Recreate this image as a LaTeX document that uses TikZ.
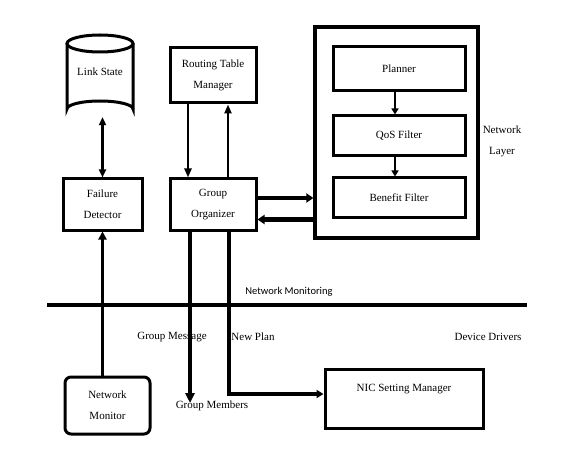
\documentclass[tikz,border=0pt]{standalone}
\usepackage{fontspec}
\setmainfont{Liberation Serif}
\newfontfamily\calib{Carlito}
\usetikzlibrary{arrows.meta,calc}
\begin{document}
\begin{tikzpicture}[x=1pt,y=-1pt,
  font=\fontsize{11}{21}\selectfont,
  box/.style={draw, line width=3pt, align=center, inner sep=0pt},
  thin arrow/.style={line width=2.2pt, -{Triangle[length=9pt,width=7pt]}},
  thick arrow/.style={line width=4.5pt, -{Triangle[length=7pt,width=9pt]}},
  conn/.style={line width=3.2pt},
  lbl/.style={inner sep=0pt}]
\useasboundingbox (0,0) rectangle (569,462);
% Link State cylinder
\node[lbl, minimum width=66pt, minimum height=90pt] (ls) at (100,72) {Link State};
\draw[line width=3pt] (67,43.5) -- (67,109) arc[start angle=180,end angle=360,x radius=33,y radius=8] -- (133,43.5);
\draw[line width=3pt] (100,43.5) ellipse[x radius=33, y radius=8.5];
% boxes
\node[box, minimum width=86pt, minimum height=55pt] (rtm) at (213,75.5) {Routing Table\\Manager};
\node[box, minimum width=79pt, minimum height=51pt] (fd) at (102.5,204.5) {Failure\\Detector};
\node[box, minimum width=86pt, minimum height=51pt] (go) at (213,204.5) {Group\\Organizer};
\node[draw, line width=3.2pt, minimum width=163pt, minimum height=211pt, inner sep=0pt] (nl) at (396.5,132.5) {};
\node[box, minimum width=132pt, minimum height=44pt] (pl) at (399,69) {Planner};
\node[box, minimum width=132pt, minimum height=40pt] (qos) at (399,136) {QoS Filter};
\node[box, minimum width=132pt, minimum height=39pt] (bf) at (399,197.5) {Benefit Filter};
\node[lbl, align=center] (nltxt) at (502,141.5) {Network\\Layer};
\node[box, rounded corners=6pt, minimum width=85pt, minimum height=57pt] (nm) at (107.5,405.5) {Network\\Monitor};
\node[box, minimum width=158pt, minimum height=59pt] (nic) at (404,398.5) {NIC Setting Manager\\\mbox{}};
% network monitoring line
\coordinate (nmL) at (47,305);
\coordinate (nmR) at (527,305);
\draw[line width=3.5pt] (nmL) -- (nmR);
\node[lbl, font=\calib\fontsize{10.5}{12}\selectfont] (nmtxt) at (289,292) {Network Monitoring};
\node[lbl] (gmsg) at (172,337) {Group Message};
\node[lbl] (np) at (253,337) {New Plan};
\node[lbl] (dd) at (488,337) {Device Drivers};
\node[lbl] (gmem) at (212,406) {Group Members};
% connectors
\draw[line width=2.6pt, {Triangle[length=8pt,width=7pt]}-{Triangle[length=8pt,width=7pt]}] (ls.south -| fd.north) -- (fd.north);
\draw[thin arrow] ([xshift=-25pt]rtm.south) -- ([xshift=-25pt]go.north);
\draw[thin arrow] ([xshift=15pt]go.north) -- ([xshift=15pt]rtm.south);
\draw[line width=2pt, -{Triangle[length=6pt,width=7pt]}] (pl.south -| 395,0) -- (qos.north -| 395,0);
\draw[line width=2pt, -{Triangle[length=6pt,width=7pt]}] (qos.south -| 395,0) -- (bf.north -| 395,0);
\draw[thick arrow] ([yshift=6.5pt]go.east) -- ([yshift=6.5pt]go.east -| nl.west);
\draw[thick arrow] ([yshift=-15pt]go.east -| nl.west) -- ([yshift=-15pt]go.east);
\draw[conn, -{Triangle[length=8pt,width=8pt]}] (nm.north -| fd.south) -- (fd.south);
\coordinate (gmend) at (190,403);
\draw[conn, -{Triangle[length=10pt,width=9pt]}] ([xshift=-23pt]go.south) -- (gmend);
\draw[conn, -{Triangle[length=7pt,width=8pt]}] ([xshift=16pt]go.south) |- ([yshift=4.5pt]nic.west);
\end{tikzpicture}
\end{document}
